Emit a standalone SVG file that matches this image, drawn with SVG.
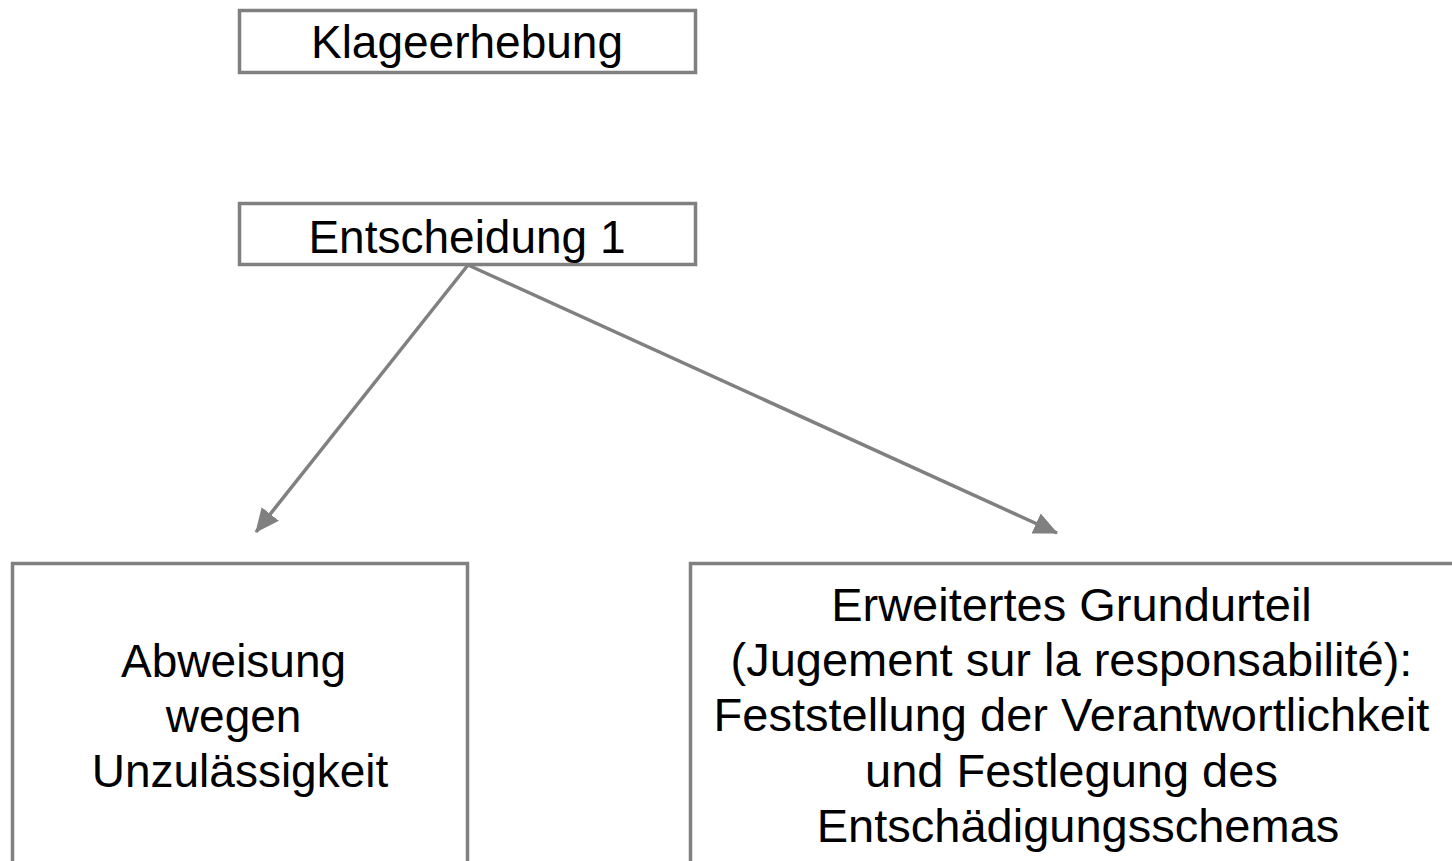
<svg xmlns="http://www.w3.org/2000/svg" width="1452" height="861" viewBox="0 0 1452 861">
  <style>
    .box { fill: #ffffff; stroke: #808080; stroke-width: 3.5; }
    .lbl { font-family: "Liberation Sans", Arial, sans-serif; fill: #000000; text-anchor: middle; }
    .edge { stroke: #808080; stroke-width: 3.5; fill: none; }
  </style>
  <defs>
    <marker id="arrow" markerUnits="userSpaceOnUse" markerWidth="24" markerHeight="22" refX="23" refY="11" orient="auto" viewBox="0 0 24 22">
      <path d="M0,0 L24,11 L0,22 z" fill="#808080"/>
    </marker>
  </defs>
  <rect width="1452" height="861" fill="#ffffff"/>
  <g id="connectors">
    <line class="edge" x1="468" y1="265" x2="256" y2="532" marker-end="url(#arrow)"/>
    <line class="edge" x1="468" y1="265" x2="1057" y2="533" marker-end="url(#arrow)"/>
  </g>
  <g id="node-klageerhebung">
    <rect class="box" x="239.5" y="10.5" width="456" height="62"/>
    <text class="lbl" x="467" y="58" font-size="46">Klageerhebung</text>
  </g>
  <g id="node-entscheidung">
    <rect class="box" x="239.5" y="203.5" width="456" height="61"/>
    <text class="lbl" x="467" y="253" font-size="46">Entscheidung 1</text>
  </g>
  <g id="node-abweisung">
    <rect class="box" x="12.5" y="563.5" width="455" height="320"/>
    <text class="lbl" x="240" font-size="46">
      <tspan x="240" y="677">Abweisung</tspan>
      <tspan x="240" y="732">wegen</tspan>
      <tspan x="240" y="787">Unzulässigkeit</tspan>
    </text>
  </g>
  <g id="node-grundurteil">
    <rect class="box" x="690.5" y="563.5" width="776" height="320"/>
    <text class="lbl" x="1078" font-size="47">
      <tspan x="1078" y="621">Erweitertes Grundurteil</tspan>
      <tspan x="1078" y="676">(Jugement sur la responsabilité):</tspan>
      <tspan x="1078" y="731">Feststellung der Verantwortlichkeit</tspan>
      <tspan x="1078" y="787">und Festlegung des</tspan>
      <tspan x="1078" y="842">Entschädigungsschemas</tspan>
    </text>
  </g>
</svg>
